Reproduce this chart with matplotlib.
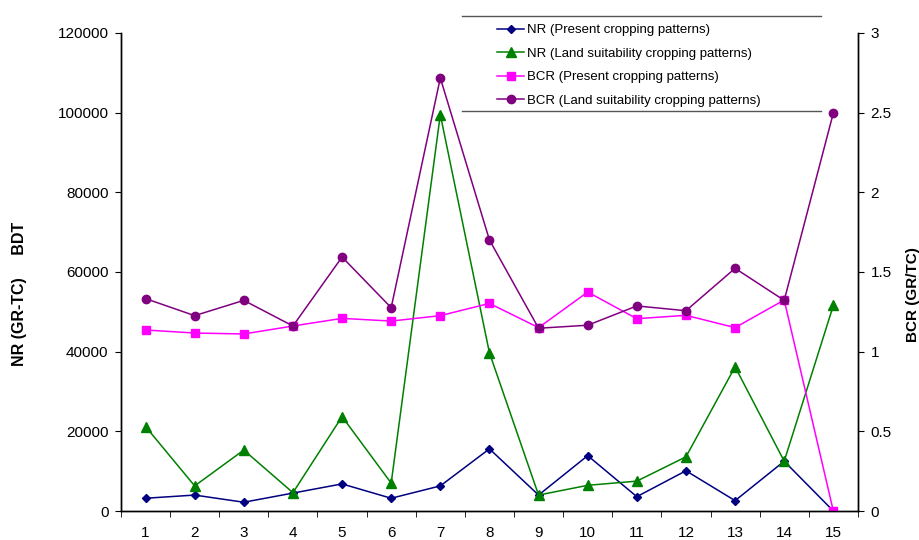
import matplotlib
matplotlib.use("Agg")
from matplotlib import pyplot as plt
from matplotlib.lines import Line2D
import numpy as np

plt.rcParams['font.family'] = ['Liberation Sans', 'DejaVu Sans']

# data
sites = list(range(1, 16))
nr_present = [3200, 4000, 2200, 4500, 6800, 3200, 6300, 15600, 4000, 13900, 3600, 10100, 2600, 12500, 0]
nr_land = [21200, 6300, 15300, 4600, 23700, 7000, 99500, 39700, 4000, 6450, 7500, 13600, 36200, 12500, 51600]
bcr_present = [1.136, 1.117, 1.111, 1.161, 1.209, 1.192, 1.226, 1.303, 1.151, 1.374, 1.207, 1.228, 1.151, 1.324, 0.0]
bcr_land = [1.333, 1.226, 1.322, 1.161, 1.594, 1.276, 2.718, 1.701, 1.147, 1.166, 1.287, 1.257, 1.523, 1.322, 2.498]

labels = ['NR (Present cropping patterns)',
          'NR (Land suitability cropping patterns)',
          'BCR (Present cropping patterns)',
          'BCR (Land suitability cropping patterns)']

fig = plt.figure(figsize=(9.2, 5.4), dpi=100)
ax = fig.add_axes([0.1315, 0.0537, 0.801, 0.8852])
ax2 = ax.twinx()

l1, = ax.plot(sites, nr_present, color='#000080', marker='D', markersize=4, lw=1.1, label=labels[0])
l2, = ax.plot(sites, nr_land, color='#008000', marker='^', markersize=6.5, lw=1.1, label=labels[1])
l3, = ax2.plot(sites, bcr_present, color='#FF00FF', marker='s', markersize=6, lw=1.1, label=labels[2])
l4, = ax2.plot(sites, bcr_land, color='#800080', marker='o', markersize=6, lw=1.1, label=labels[3])

ax.set_xlim(0.5, 15.5)
ax.set_ylim(0, 120000)
ax2.set_ylim(0, 3)
ax.set_yticks(np.arange(0, 120001, 20000))
ax2.set_yticks([0, 0.5, 1, 1.5, 2, 2.5, 3])
ax2.set_yticklabels(['0', '0.5', '1', '1.5', '2', '2.5', '3'])

ax.set_xticks(sites)
ax.set_xticks(np.arange(0.5, 15.6, 1), minor=True)
ax.tick_params(axis='x', which='major', length=0, pad=11, labelsize=11)
ax.tick_params(axis='x', which='minor', length=4, direction='out')
ax.tick_params(axis='y', length=4, labelsize=11, pad=5)
ax2.tick_params(axis='y', length=4, labelsize=11, pad=5)

for a in (ax, ax2):
    a.spines['top'].set_visible(False)
    for s in ('left', 'right', 'bottom'):
        a.spines[s].set_linewidth(1.0)

ax.set_ylabel('NR (GR-TC)     BDT', fontsize=11.5, fontweight='bold')
ax.yaxis.set_label_coords(-0.127, 0.455)
ax2.set_ylabel('BCR (GR/TC)', fontsize=11, fontweight='bold')
ax2.yaxis.set_label_coords(1.065, 0.452)

leg = fig.legend(handles=[l1, l2, l3, l4], loc='upper left', bbox_to_anchor=(0.535, 0.965),
                 frameon=False, fontsize=9.5, handlelength=2.0, handletextpad=0.2,
                 labelspacing=0.85, borderaxespad=0)
# legend box only has top and bottom rules
fig.add_artist(Line2D([0.502, 0.892], [0.970, 0.970], color='#555555', lw=1.0))
fig.add_artist(Line2D([0.502, 0.892], [0.795, 0.795], color='#555555', lw=1.0))

fig.savefig('out.png', dpi=100)
